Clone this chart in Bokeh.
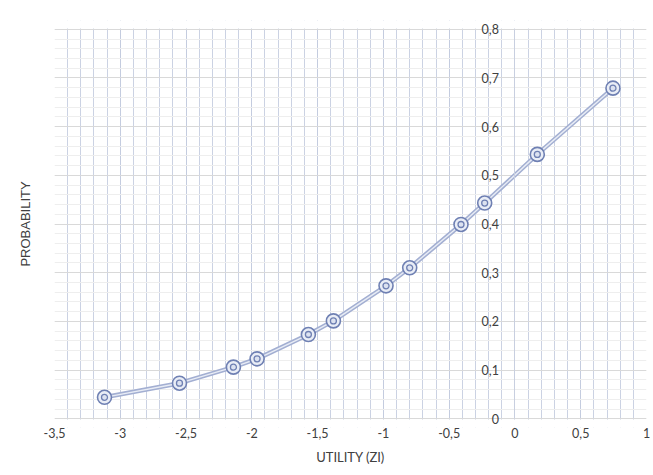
from bokeh.plotting import figure
from bokeh.models import (SingleIntervalTicker, CustomJSTickFormatter, Range1d, ColumnDataSource,
                          BoxAnnotation, LinearAxis, FixedTicker)
from bokeh.embed import file_html
from bokeh.resources import INLINE

utility = [-3.12, -2.55, -2.14, -1.96, -1.57, -1.38, -0.98, -0.80, -0.41, -0.23, 0.17, 0.745]
probability = [0.044, 0.073, 0.106, 0.123, 0.173, 0.201, 0.273, 0.310, 0.399, 0.443, 0.543, 0.679]

x_label = "UTILITY (ZI)"
y_label = "PROBABILITY"

src = ColumnDataSource(data=dict(x=utility, y=probability))

p = figure(width=651, height=469, output_backend="svg", toolbar_location=None,
           x_range=Range1d(-3.5, 1), y_range=Range1d(-0.018, 0.818),
           min_border_left=54, min_border_right=5, min_border_top=20, min_border_bottom=42)
p.outline_line_color = None
p.background_fill_color = "white"
p.border_fill_color = "white"

fmt = CustomJSTickFormatter(code="var s = (Math.round(tick*10)/10).toString(); return s.replace('.', ',');")

# x axis
p.xaxis.ticker = SingleIntervalTicker(interval=0.5, num_minor_ticks=5)
p.xaxis.formatter = fmt
p.xaxis.axis_line_color = None
p.xaxis.major_tick_line_color = None
p.xaxis.minor_tick_line_color = None
p.xaxis.major_label_standoff = -6
p.xaxis.major_label_text_font = "Lato"
p.xaxis.major_label_text_font_size = "12.5px"
p.xaxis.major_label_text_color = "#404040"
p.xaxis.axis_label = x_label
p.xaxis.axis_label_text_font = "Lato"
p.xaxis.axis_label_text_font_style = "normal"
p.xaxis.axis_label_text_font_size = "13px"
p.xaxis.axis_label_text_color = "#404040"
p.xaxis.axis_label_standoff = 8

# y axis crossing at x = 0
p.yaxis.ticker = SingleIntervalTicker(interval=0.1, num_minor_ticks=5)
p.yaxis.formatter = fmt
p.yaxis.fixed_location = 0
p.yaxis.bounds = (0, 0.8)
p.yaxis.axis_line_color = "#C8CFE0"
p.yaxis.major_tick_line_color = None
p.yaxis.minor_tick_line_color = None
p.yaxis.major_label_standoff = 10
p.yaxis.major_label_text_font = "Lato"
p.yaxis.major_label_text_font_size = "12.5px"
p.yaxis.major_label_text_color = "#404040"

# separate left axis carrying only the title
label_axis = LinearAxis(ticker=FixedTicker(ticks=[]), axis_label=y_label,
                        axis_line_color=None, major_tick_line_color=None, minor_tick_line_color=None,
                        axis_label_text_font="Liberation Sans", axis_label_text_font_size="13px",
                        axis_label_text_font_style="normal", axis_label_text_color="#404040",
                        axis_label_standoff=22)
p.add_layout(label_axis, "left")

# grids
p.xgrid.ticker = SingleIntervalTicker(interval=0.5, num_minor_ticks=5)
p.xgrid.grid_line_color = "#C4CCDF"
p.xgrid.minor_grid_line_color = "#CBD2E3"
p.ygrid.ticker = SingleIntervalTicker(interval=0.1, num_minor_ticks=5)
p.ygrid.grid_line_color = "#D9D9D9"
p.ygrid.minor_grid_line_color = "#EEEEEE"

# white strips hiding grid outside 0..0.8 (label room)
p.add_layout(BoxAnnotation(bottom=0.8015, fill_color="white", fill_alpha=1, line_color=None, level="underlay"))
p.add_layout(BoxAnnotation(top=-0.0015, fill_color="white", fill_alpha=1, line_color=None, level="underlay"))

# compound line
p.line("x", "y", source=src, line_color="#A3AFD2", line_width=4.5)
p.line("x", "y", source=src, line_color="#E8ECF5", line_width=1.4)

# markers
p.scatter("x", "y", source=src, size=14, marker="circle", fill_color="#E9EDF6",
          line_color="#6F80B3", line_width=1.6)
p.scatter("x", "y", source=src, size=6, marker="circle", fill_color="#DCE2F0",
          line_color="#6F80B3", line_width=1.3)

open("out.html", "w").write(file_html(p, INLINE))
